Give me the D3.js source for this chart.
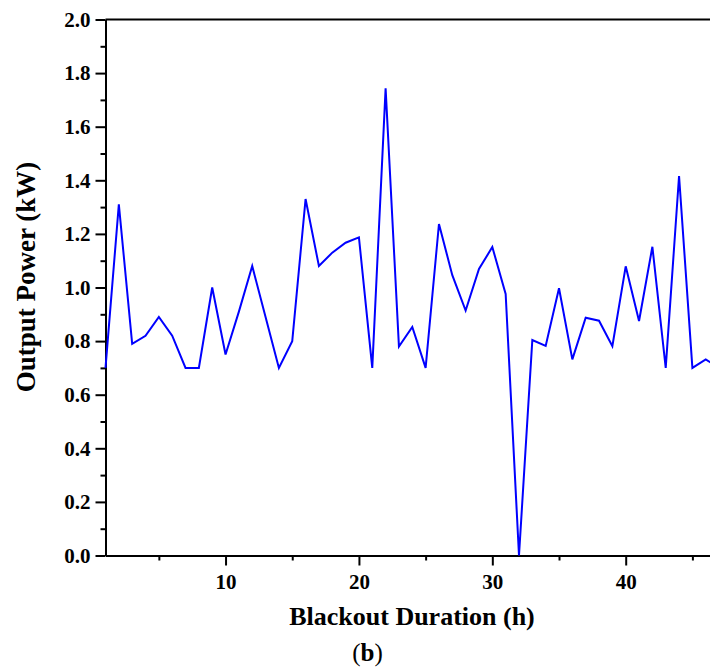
<!DOCTYPE html>
<html>
<head>
<meta charset="utf-8">
<script src="https://cdn.jsdelivr.net/npm/d3@7"></script>
<style>
  body { margin: 0; background: #fff; }
  text { font-family: "Liberation Serif", "Times New Roman", serif; }
</style>
</head>
<body>
<div id="chart"></div>
<script>
// hours 1..47 of blackout, output power in kW
var hours = d3.range(1, 48);
var power = [0.70, 1.31, 0.79, 0.82, 0.89, 0.82, 0.70, 0.70, 1.00, 0.75,
             0.91, 1.08, 0.89, 0.70, 0.80, 1.33, 1.08, 1.13, 1.167, 1.187,
             0.70, 1.743, 0.78, 0.853, 0.70, 1.237, 1.046, 0.914, 1.069, 1.151,
             0.976, 0.0, 0.804, 0.782, 0.997, 0.732, 0.887, 0.876, 0.781, 1.079,
             0.875, 1.152, 0.70, 1.416, 0.70, 0.732, 0.70];
var xMajor = [10, 20, 30, 40];
var xMinor = [5, 15, 25, 35, 45];
var yMajor = [0, 0.2, 0.4, 0.6, 0.8, 1.0, 1.2, 1.4, 1.6, 1.8, 2.0];
var yMinor = [0.1, 0.3, 0.5, 0.7, 0.9, 1.1, 1.3, 1.5, 1.7, 1.9];

var W = 710, H = 669;
var margin = {top: 19.5, right: 0, bottom: 113.5, left: 105.5},
    width = W - margin.left - margin.right,
    height = H - margin.top - margin.bottom;

var svg = d3.select("#chart").append("svg")
    .attr("width", W)
    .attr("height", H);

var g = svg.append("g")
    .attr("transform", "translate(" + margin.left + "," + margin.top + ")");

var x = d3.scaleLinear().domain([1, 46.32]).range([0, width]);
var y = d3.scaleLinear().domain([0, 2]).range([height, 0]);

// minor ticks first
g.append("g")
    .attr("transform", "translate(0," + height + ")")
    .call(d3.axisBottom(x).tickValues(xMinor).tickSize(5).tickFormat(""))
    .call(function(s) { s.select(".domain").remove(); });
g.append("g")
    .call(d3.axisLeft(y).tickValues(yMinor).tickSize(5).tickFormat(""))
    .call(function(s) { s.select(".domain").remove(); });

var xAxis = g.append("g")
    .attr("transform", "translate(0," + height + ")")
    .call(d3.axisBottom(x).tickValues(xMajor).tickSize(10).tickPadding(9).tickSizeOuter(0));

var yAxis = g.append("g")
    .call(d3.axisLeft(y).tickValues(yMajor).tickSize(10).tickPadding(5)
      .tickFormat(d3.format(".1f")).tickSizeOuter(0));

g.selectAll(".tick line").attr("stroke", "#000").attr("stroke-width", 2);
g.selectAll(".domain").attr("stroke", "#000").attr("stroke-width", 2);
g.selectAll(".tick text")
    .attr("font-family", "Liberation Serif, serif")
    .attr("font-weight", "bold")
    .attr("font-size", 21)
    .attr("fill", "#000");

// top frame line
g.append("line")
    .attr("x1", 0).attr("x2", width)
    .attr("y1", 0).attr("y2", 0)
    .attr("stroke", "#000").attr("stroke-width", 2);

var line = d3.line()
    .x(function(d, i) { return x(hours[i]); })
    .y(function(d) { return y(d); });

g.append("path")
    .datum(power)
    .attr("fill", "none")
    .attr("stroke", "#0000ff")
    .attr("stroke-width", 2)
    .attr("stroke-linejoin", "miter")
    .attr("d", line);

// axis titles
svg.append("text")
    .attr("transform", "translate(35,277) rotate(-90)")
    .attr("text-anchor", "middle")
    .attr("font-weight", "bold")
    .attr("font-size", 27)
    .text("Output Power (kW)");

svg.append("text")
    .attr("x", 412)
    .attr("y", 625)
    .attr("text-anchor", "middle")
    .attr("font-weight", "bold")
    .attr("font-size", 26)
    .text("Blackout Duration (h)");

var lab = svg.append("text")
    .attr("x", 367.5)
    .attr("y", 661)
    .attr("text-anchor", "middle")
    .attr("font-size", 25);
lab.append("tspan").text("(");
lab.append("tspan").attr("font-weight", "bold").text("b");
lab.append("tspan").text(")");
</script>
</body>
</html>
